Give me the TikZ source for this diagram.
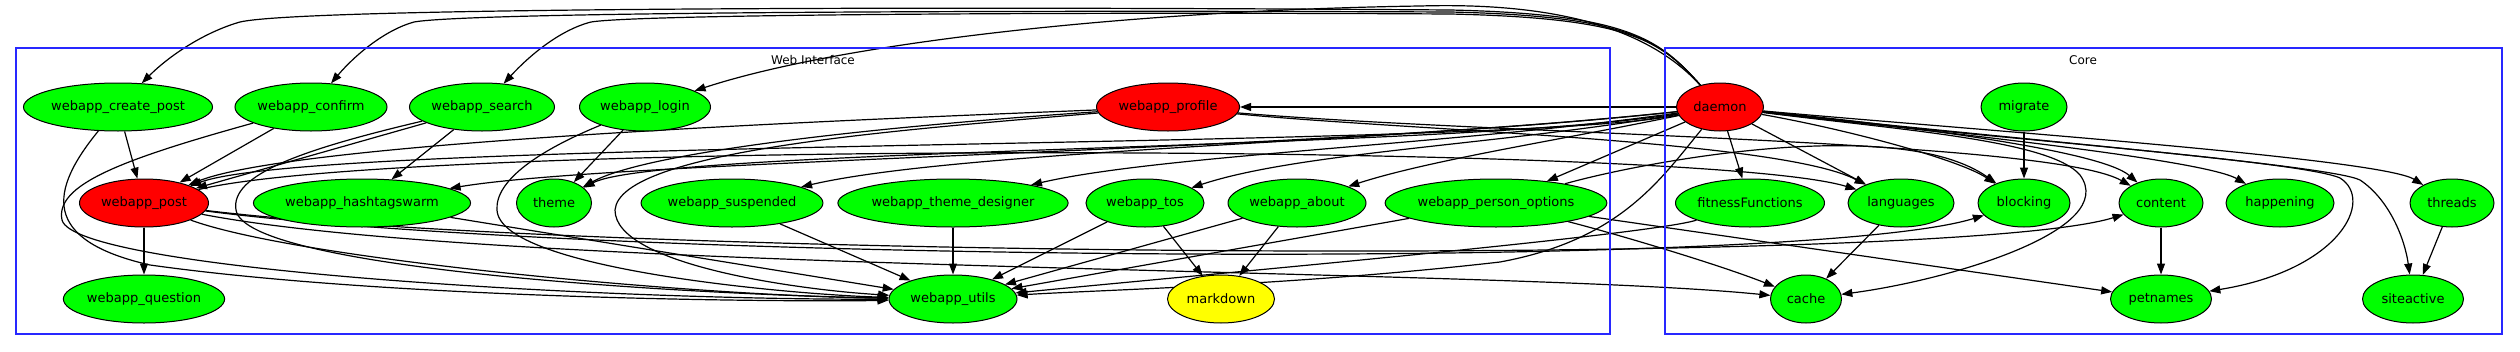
\documentclass[tikz,border=0pt]{standalone}
\usepackage{fontspec}
\setmainfont{DejaVu Sans}
\usetikzlibrary{shapes.geometric,arrows.meta,backgrounds}
\definecolor{ngreen}{RGB}{0,255,0}
\definecolor{nred}{RGB}{255,0,0}
\definecolor{nyellow}{RGB}{255,255,0}
\definecolor{cblue}{RGB}{40,40,255}
\begin{document}
\begin{tikzpicture}[x=1pt,y=-1pt,
  nd/.style={ellipse,draw=black,line width=1pt,inner sep=0pt,minimum height=48pt,font=\fontsize{13}{15}\selectfont,fill=ngreen},
  rednd/.style={nd,fill=nred},
  ynd/.style={nd,fill=nyellow},
  ed/.style={-{Triangle[length=11pt,width=8pt]},line width=1.2pt},
  clus/.style={draw=cblue,line width=1.4pt},
  clab/.style={font=\fontsize{12}{14}\selectfont}]
\useasboundingbox (0,0) rectangle (2520,351);
% clusters
\draw[clus] (16,48) rectangle (1610,334);
\node[clab] (lweb) at (813,60) {Web Interface};
\draw[clus] (1665,48) rectangle (2502,334);
\node[clab] (lcore) at (2083,60) {Core};
% web nodes
\node[nd,minimum width=183pt] (cp) at (118,107) {webapp\_create\_post};
\node[nd,minimum width=152pt] (cf) at (311,107) {webapp\_confirm};
\node[nd,minimum width=145pt] (se) at (482,107) {webapp\_search};
\node[nd,minimum width=131pt] (lg) at (645,107) {webapp\_login};
\node[rednd,minimum width=143pt] (pr) at (1168,107) {webapp\_profile};
\node[rednd,minimum width=129pt] (po) at (144,203) {webapp\_post};
\node[nd,minimum width=208pt] (hs) at (362,203) {webapp\_hashtagswarm};
\node[nd,minimum width=75pt] (th) at (554,203) {theme};
\node[nd,minimum width=178pt] (su) at (732,203) {webapp\_suspended};
\node[nd,minimum width=218pt] (td) at (953,203) {webapp\_theme\_designer};
\node[nd,minimum width=118pt] (to) at (1145,203) {webapp\_tos};
\node[nd,minimum width=138pt] (ab) at (1297,203) {webapp\_about};
\node[nd,minimum width=211pt] (pe) at (1496,203) {webapp\_person\_options};
\node[nd,minimum width=161pt] (qu) at (144,299) {webapp\_question};
\node[nd,minimum width=128pt] (ut) at (953,299) {webapp\_utils};
\node[ynd,minimum width=107pt] (md) at (1221,299) {markdown};
% core nodes
\node[rednd,minimum width=87pt] (dm) at (1720,107) {daemon};
\node[nd,minimum width=86pt] (mg) at (2024,107) {migrate};
\node[nd,minimum width=149pt] (ff) at (1750,203) {fitnessFunctions};
\node[nd,minimum width=106pt] (la) at (1901,203) {languages};
\node[nd,minimum width=92pt] (bl) at (2024,203) {blocking};
\node[nd,minimum width=84pt] (co) at (2161,203) {content};
\node[nd,minimum width=108pt] (ha) at (2280,203) {happening};
\node[nd,minimum width=84pt] (tr) at (2452,203) {threads};
\node[nd,minimum width=71pt] (ca) at (1806,299) {cache};
\node[nd,minimum width=101pt] (pn) at (2161,299) {petnames};
\node[nd,minimum width=101pt] (sa) at (2413,299) {siteactive};
\begin{pgfonlayer}{background}
% daemon to top row (long arcs)
\draw[ed] (dm) .. controls (1660,40) and (1630,14) .. (1450,10) .. controls (900,6) and (300,8) .. (240,22) .. controls (205,32) and (170,55) .. (cp);
\draw[ed] (dm) .. controls (1660,40) and (1630,16) .. (1450,12) .. controls (1000,10) and (470,12) .. (414,22) .. controls (385,30) and (355,55) .. (cf);
\draw[ed] (dm) .. controls (1660,40) and (1630,18) .. (1450,14) .. controls (1100,12) and (640,14) .. (591,22) .. controls (560,30) and (530,55) .. (se);
\draw[ed] (dm) .. controls (1650,30) and (1560,2) .. (1420,6) .. controls (1150,10) and (850,40) .. (lg);
\draw[ed] (dm) -- (pr);
% daemon to web row 2
\draw[ed] (dm) .. controls (1500,150) and (320,138) .. (po);
\draw[ed] (dm) .. controls (1450,150) and (660,148) .. (th);
\draw[ed] (dm) .. controls (1300,152) and (620,160) .. (hs);
\draw[ed] (dm) .. controls (1400,142) and (960,150) .. (su);
\draw[ed] (dm) .. controls (1450,145) and (1160,155) .. (td);
\draw[ed] (dm) .. controls (1500,145) and (1300,152) .. (to);
\draw[ed] (dm) .. controls (1560,140) and (1430,160) .. (ab);
\draw[ed] (dm) -- (pe);
\draw[ed] (dm) .. controls (1660,180) and (1620,240) .. (1500,262) .. controls (1300,285) and (1100,290) .. (ut);
% daemon to core
\draw[ed] (dm) -- (ff);
\draw[ed] (dm) -- (la);
\draw[ed] (dm) .. controls (1850,130) and (1960,160) .. (bl);
\draw[ed] (dm) .. controls (1900,125) and (2100,150) .. (co);
\draw[ed] (dm) .. controls (1900,128) and (2200,158) .. (ha);
\draw[ed] (dm) .. controls (1950,128) and (2380,158) .. (tr);
\draw[ed] (dm) .. controls (2000,138) and (2330,165) .. (2360,180) .. controls (2390,200) and (2405,240) .. (sa);
\draw[ed] (dm) .. controls (1950,135) and (2300,160) .. (2340,178) .. controls (2375,200) and (2340,270) .. (pn);
\draw[ed] (dm) .. controls (1900,130) and (2050,140) .. (2080,175) .. controls (2120,230) and (1950,280) .. (ca);
% core internal
\draw[ed] (mg) -- (bl);
\draw[ed] (co) -- (pn);
\draw[ed] (tr) -- (sa);
\draw[ed] (la) -- (ca);
% web internal
\draw[ed] (cp) -- (po);
\draw[ed] (cf) -- (po);
\draw[ed] (se) -- (po);
\draw[ed] (se) -- (hs);
\draw[ed] (lg) -- (th);
\draw[ed] (po) -- (qu);
\draw[ed] (td) -- (ut);
\draw[ed] (su) -- (ut);
\draw[ed] (to) -- (ut);
\draw[ed] (to) -- (md);
\draw[ed] (ab) -- (ut);
\draw[ed] (ab) -- (md);
\draw[ed] (hs) -- (ut);
\draw[ed] (pe) -- (ut);
\draw[ed] (cp) .. controls (50,190) and (40,240) .. (150,265) .. controls (400,300) and (800,302) .. (ut);
\draw[ed] (cf) .. controls (120,160) and (55,185) .. (62,220) .. controls (75,270) and (600,300) .. (ut);
\draw[ed] (se) .. controls (300,150) and (230,175) .. (236,210) .. controls (245,270) and (700,295) .. (ut);
\draw[ed] (lg) .. controls (540,150) and (495,180) .. (497,210) .. controls (500,270) and (800,295) .. (ut);
\draw[ed] (pr) .. controls (900,130) and (620,150) .. (615,210) .. controls (615,265) and (800,290) .. (ut);
\draw[ed] (pr) .. controls (900,118) and (300,140) .. (po);
\draw[ed] (pr) .. controls (900,125) and (650,150) .. (th);
\draw[ed] (po) .. controls (300,260) and (700,296) .. (ut);
% web to core
\draw[ed] (po) .. controls (500,272) and (1500,268) .. (ca);
\draw[ed] (po) .. controls (600,262) and (1800,272) .. (bl);
\draw[ed] (po) .. controls (600,258) and (1950,268) .. (co);
\draw[ed] (po) .. controls (400,140) and (1700,142) .. (la);
\draw[ed] (pr) .. controls (1400,130) and (1780,140) .. (la);
\draw[ed] (pr) .. controls (1500,135) and (2050,140) .. (co);
\draw[ed] (pe) .. controls (1650,160) and (1900,115) .. (bl);
\draw[ed] (pe) -- (pn);
\draw[ed] (pe) .. controls (1620,235) and (1720,265) .. (ca);
\draw[ed] (ff) .. controls (1650,235) and (1200,275) .. (ut);
\end{pgfonlayer}
\end{tikzpicture}
\end{document}
